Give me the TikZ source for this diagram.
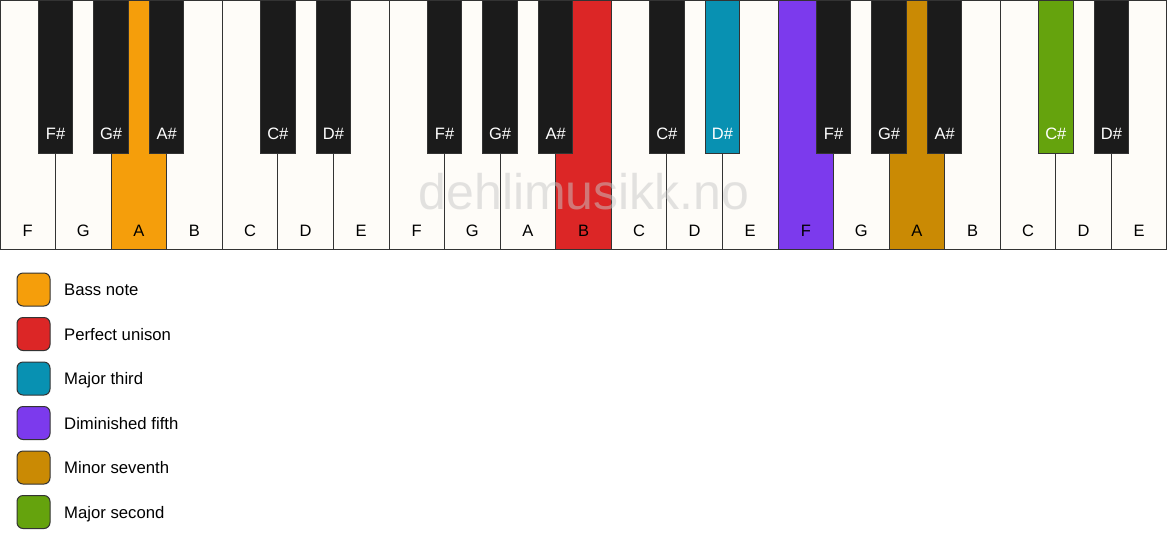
\documentclass[tikz,border=0pt]{standalone}
\usepackage{fontspec}
\setmainfont{Liberation Sans}
\definecolor{keywhite}{HTML}{FEFCF8}
\definecolor{keyblack}{HTML}{1B1B1B}
\definecolor{keyline}{HTML}{333333}
\definecolor{cbass}{HTML}{F59E0B}
\definecolor{cunison}{HTML}{DC2626}
\definecolor{cthird}{HTML}{0891B2}
\definecolor{cfifth}{HTML}{7C3AED}
\definecolor{cseventh}{HTML}{CA8A04}
\definecolor{csecond}{HTML}{65A30D}
\definecolor{wmark}{HTML}{C8C8C8}
\tikzset{
  whitekey/.style={draw=keyline, line width=1pt, fill=keywhite},
  blackkey/.style={draw=keyline, line width=1pt, fill=keyblack},
  wlabel/.style={font=\fontsize{16.5}{19}\selectfont, text=black, inner sep=0pt, anchor=base},
  blabel/.style={font=\fontsize{16.5}{19}\selectfont, text=white, inner sep=0pt, anchor=base},
  legendbox/.style={draw=keyline, line width=1pt, rounded corners=6pt, minimum width=33pt, minimum height=33pt, inner sep=0pt},
  legendtext/.style={font=\fontsize{16.7}{19}\selectfont, anchor=base west, inner sep=0pt},
}
\begin{document}
\begin{tikzpicture}[x=1pt,y=-1pt]
\useasboundingbox (0,0) rectangle (1167,550);
\fill[white] (0,0) rectangle (1167,550);
\def\W{55.571}
% white keys
\foreach \i/\n/\c in {0/F/keywhite,1/G/keywhite,2/A/cbass,3/B/keywhite,4/C/keywhite,5/D/keywhite,6/E/keywhite,
                      7/F/keywhite,8/G/keywhite,9/A/keywhite,10/B/cunison,11/C/keywhite,12/D/keywhite,13/E/keywhite,
                      14/F/cfifth,15/G/keywhite,16/A/cseventh,17/B/keywhite,18/C/keywhite,19/D/keywhite,20/E/keywhite}{
  \pgfmathsetmacro\xa{max(\i*\W,0.5)}
  \pgfmathsetmacro\xb{min((\i+1)*\W,1166.5)}
  \pgfmathsetmacro\xc{(\i+0.5)*\W}
  \draw[whitekey, fill=\c] (\xa,0.5) rectangle (\xb,249.5);
  \node[wlabel] (w\i) at (\xc,236) {\n};
}
\draw[keyline, line width=1.6pt] (0,249.5) -- (1167,249.5);
% watermark
\node[font=\fontsize{50}{56}\selectfont, text=wmark, text opacity=0.5, inner sep=0pt] (wm) at (584,192) {dehlimusikk.no};
% black keys
\foreach \b/\n/\c in {1/F\#/keyblack,2/G\#/keyblack,3/A\#/keyblack,5/C\#/keyblack,6/D\#/keyblack,
                      8/F\#/keyblack,9/G\#/keyblack,10/A\#/keyblack,12/C\#/keyblack,13/D\#/cthird,
                      15/F\#/keyblack,16/G\#/keyblack,17/A\#/keyblack,19/C\#/csecond,20/D\#/keyblack}{
  \pgfmathsetmacro\xc{\b*\W}
  \draw[blackkey, fill=\c] (\xc-17.2,0) rectangle (\xc+17.2,153);
  \node[blabel] (b\b) at (\xc,139) {\n};
}
% legend
\foreach \k/\c/\t in {0/cbass/Bass note,1/cunison/Perfect unison,2/cthird/Major third,
                      3/cfifth/Diminished fifth,4/cseventh/Minor seventh,5/csecond/Major second}{
  \pgfmathsetmacro\yc{289.5+44.5*\k}
  \node[legendbox, fill=\c] (l\k) at (33.5,\yc) {};
  \node[legendtext] (t\k) at (64,\yc+6) {\t};
}
\end{tikzpicture}
\end{document}
